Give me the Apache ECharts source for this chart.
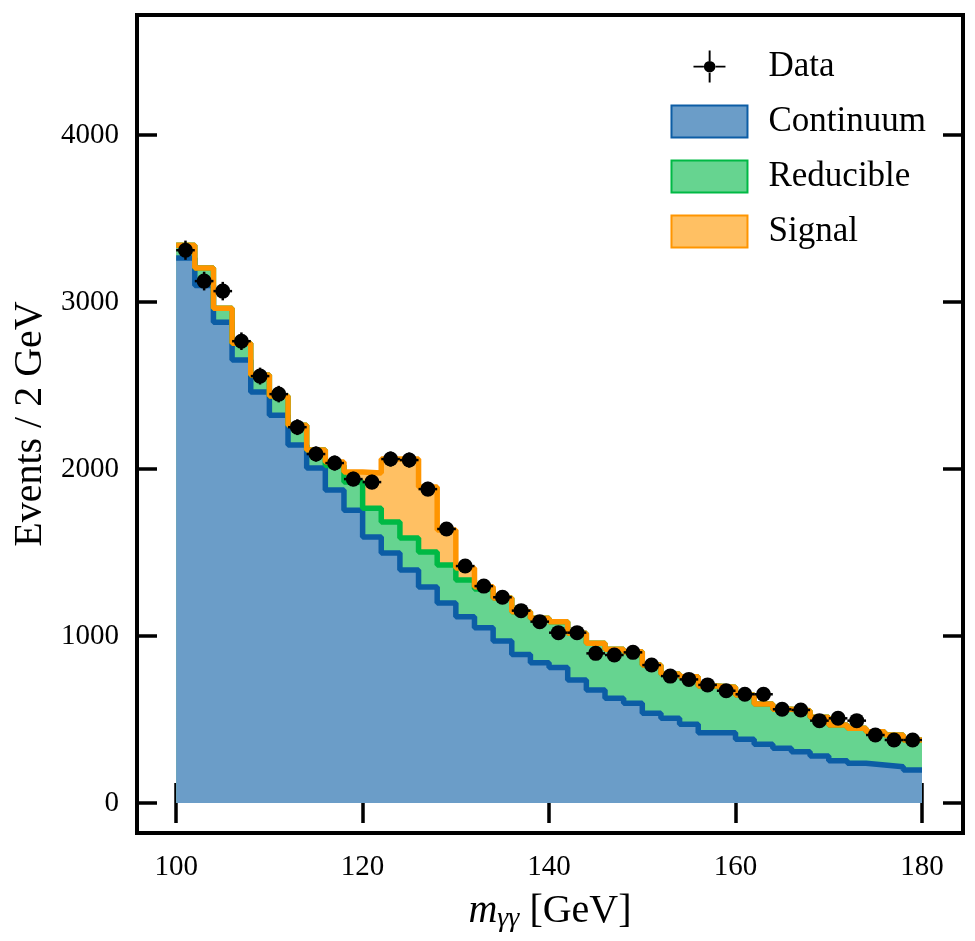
<!DOCTYPE html>
<html>
<head>
<meta charset="utf-8">
<script src="https://cdn.jsdelivr.net/npm/echarts@6/dist/echarts.min.js"></script>
<style>
  html, body { margin: 0; padding: 0; background: #fff; }
  #chart { width: 975px; height: 941px; }
</style>
</head>
<body>
<div id="chart"></div>
<script>
// 40 bins of 2 GeV from 100 to 180
const binEdges = Array.from({ length: 41 }, (_, i) => 100 + 2 * i)

const continuum = [3264, 3100, 2880, 2653, 2461, 2323, 2144, 2006, 1874, 1754,
  1593, 1497, 1395, 1293, 1198, 1116, 1050, 970, 890, 840,
  812, 737, 677, 627, 597, 537, 507, 471, 421, 421,
  381, 351, 327, 307, 281, 253, 238, 228, 217, 198]
const reducible = [77, 104, 84, 101, 102, 114, 119, 108, 148, 168,
  173, 186, 192, 210, 227, 219, 231, 258, 256, 266,
  274, 279, 279, 293, 308, 289, 265, 285, 280, 272,
  266, 242, 234, 246, 232, 214, 209, 199, 190, 179]
const signal = [0, 0, 0, 0, 0, 0, 0, 0, 20, 60,
  210, 377, 473, 389, 210, 72, 14, 0, 0, 0,
  0, 0, 0, 0, 0, 0, 0, 0, 0, 0,
  0, 0, 0, 0, 0, 0, 0, 0, 0, 0]
const dataCounts = [3311, 3126, 3066, 2766, 2557, 2449, 2251, 2090, 2036, 1940,
  1922, 2060, 2054, 1880, 1641, 1419, 1299, 1232, 1152, 1086,
  1020, 1020, 896, 886, 902, 826, 760, 740, 707, 672,
  651, 651, 561, 557, 493, 507, 493, 407, 377, 377]

const xTicks = [100, 120, 140, 160, 180]
const yTicks = [0, 1000, 2000, 3000, 4000]

const FONT = 'Liberation Serif'

// cumulative stack tops (stack done by hand, value axes don't stack by x)
const stackBkg = continuum.map((v, i) => v + reducible[i])
const stackAll = stackBkg.map((v, i) => v + signal[i])

// step histogram: one point per left edge, plus the last right edge
function stepData(vals) {
  const d = vals.map((v, i) => [binEdges[i], v])
  d.push([binEdges[40], vals[39]])
  return d
}

const points = dataCounts.map((v, i) => [binEdges[i] + 1, v])

function areaSeries(name, vals, line, fill, z) {
  return {
    name, type: 'line', step: 'end', data: stepData(vals),
    showSymbol: false, symbol: 'none',
    lineStyle: { width: 0 },
    areaStyle: { color: fill, opacity: 1 },
    itemStyle: { color: fill, borderColor: line, borderWidth: 2 },
    z
  }
}
function edgeSeries(name, vals, line, z) {
  return {
    name, type: 'line', step: 'end', data: stepData(vals),
    showSymbol: false, symbol: 'none',
    lineStyle: { color: line, width: 5.5 }, z
  }
}

const tickStyle = { show: true, inside: true, length: 20, lineStyle: { width: 3.5, color: '#000' } }

const dataIcon = 'path://M0,19h13v2.4h-13z M27,19h13v2.4h-13z M19,0h2.4v13h-2.4z M19,27h2.4v13h-2.4z ' +
  'M13,20.2a7.2,7.2 0 1,0 14.4,0a7.2,7.2 0 1,0 -14.4,0z'

const chart = echarts.init(document.getElementById('chart'))
chart.setOption({
  animation: false,
  textStyle: { fontFamily: FONT },
  grid: {
    left: 137, right: 12, top: 15, bottom: 108, show: true, borderColor: '#000', borderWidth: 4,
    containLabel: false, outerBoundsMode: 'none'
  },
  legend: {
    right: 44, top: 44, orient: 'vertical', itemGap: 20,
    itemWidth: 76, itemHeight: 32,
    textStyle: { fontFamily: FONT, fontSize: 35, color: '#000', padding: [0, 0, 0, 16] },
    data: [
      { name: 'Data', icon: dataIcon, itemStyle: { color: '#000', borderWidth: 0 } },
      { name: 'Continuum', icon: 'rect' },
      { name: 'Reducible', icon: 'rect' },
      { name: 'Signal', icon: 'rect' }
    ]
  },
  xAxis: [{
    type: 'value', min: 95.8, max: 184.4,
    splitLine: { show: false },
    axisLine: { show: false },
    axisTick: Object.assign({}, tickStyle, { customValues: xTicks }),
    axisLabel: { customValues: xTicks, fontFamily: FONT, fontSize: 29, color: '#000', margin: 20 },
    name: '{i|m}{s|γγ} [GeV]', nameLocation: 'middle', nameGap: 56,
    nameTextStyle: {
      fontFamily: FONT, fontSize: 40, color: '#000',
      rich: {
        i: { fontFamily: FONT, fontStyle: 'italic', fontSize: 40 },
        s: { fontFamily: FONT, fontStyle: 'italic', fontSize: 28, verticalAlign: 'bottom', padding: [16, 0, 0, 0] }
      }
    }
  }, {
    type: 'value', position: 'top', min: 95.8, max: 184.4,
    splitLine: { show: false }, axisLine: { show: false },
    axisTick: Object.assign({}, tickStyle, { customValues: xTicks }),
    axisLabel: { show: false, customValues: xTicks }
  }],
  yAxis: [{
    type: 'value', min: -180, max: 4720,
    splitLine: { show: false }, axisLine: { show: false },
    axisTick: Object.assign({}, tickStyle, { customValues: yTicks }),
    axisLabel: { customValues: yTicks, formatter: v => String(v), fontFamily: FONT, fontSize: 29, color: '#000', margin: 18 },
    name: 'Events / 2 GeV', nameLocation: 'middle', nameGap: 86,
    nameTextStyle: { fontFamily: FONT, fontSize: 40, color: '#000' }
  }, {
    type: 'value', position: 'right', min: -180, max: 4720,
    splitLine: { show: false }, axisLine: { show: false },
    axisTick: Object.assign({}, tickStyle, { customValues: yTicks }),
    axisLabel: { show: false, customValues: yTicks }
  }],
  series: [
    areaSeries('Signal', stackAll, '#ff9500', '#ffc063', 1),
    areaSeries('Reducible', stackBkg, '#00b945', '#66d490', 2),
    areaSeries('Continuum', continuum, '#0c5da5', '#6b9dc8', 3),
    edgeSeries('continuum edge', continuum, '#0c5da5', 4),
    edgeSeries('reducible edge', stackBkg, '#00b945', 5),
    edgeSeries('signal edge', stackAll, '#ff9500', 6),
    {
      name: 'Data', type: 'custom', data: points, z: 10,
      itemStyle: { color: '#000' },
      renderItem: (params, api) => {
        const x = api.value(0), y = api.value(1), err = Math.sqrt(y)
        const c = api.coord([x, y])
        const l = api.coord([x - 1, y]), r = api.coord([x + 1, y])
        const t = api.coord([x, y + err]), b = api.coord([x, y - err])
        const st = { stroke: '#000', lineWidth: 2.5 }
        return {
          type: 'group', children: [
            { type: 'line', shape: { x1: l[0], y1: l[1], x2: r[0], y2: r[1] }, style: st },
            { type: 'line', shape: { x1: t[0], y1: t[1], x2: b[0], y2: b[1] }, style: st },
            { type: 'circle', shape: { cx: c[0], cy: c[1], r: 7.5 }, style: { fill: '#000' } }
          ]
        }
      }
    }
  ]
})
</script>
</body>
</html>
